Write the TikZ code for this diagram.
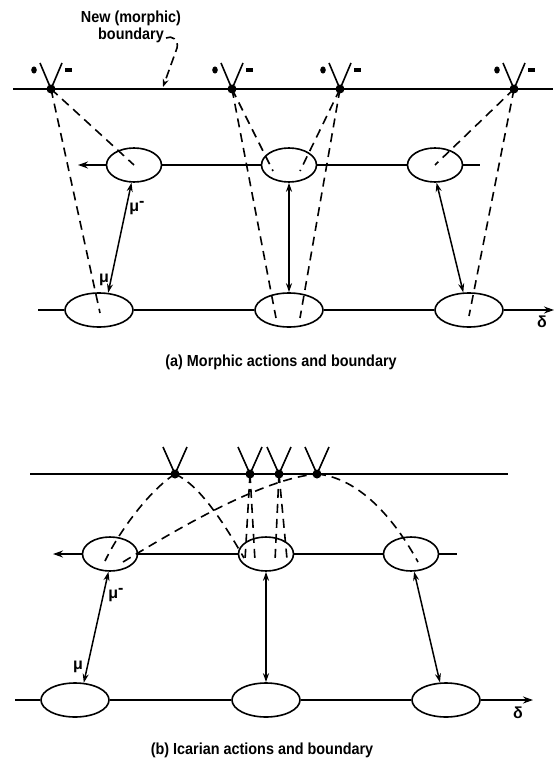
\documentclass[tikz,border=0pt]{standalone}
\usepackage{fontspec}
\setmainfont{Liberation Sans}
\usetikzlibrary{shapes.geometric,arrows.meta,calc}
\newcommand{\cond}[1]{\scalebox{0.9}[1]{\bfseries #1}}
\begin{document}
\begin{tikzpicture}[x=1pt,y=-1pt,
 ell/.style={draw,ellipse,line width=1.6pt,inner sep=0pt},
 mid/.style={ell,minimum width=55pt,minimum height=34pt},
 bot/.style={ell,minimum width=68pt,minimum height=34pt},
 vtx/.style={circle,fill,inner sep=0pt,minimum size=9pt},
 ln/.style={line width=1.6pt},
 tipr/.style={ln,-{Stealth[length=10pt,width=7pt]}},
 dsh/.style={line width=1.6pt,dash pattern=on 9pt off 6pt},
 dbl/.style={line width=1.5pt,{Stealth[length=9pt,width=6pt]}-{Stealth[length=9pt,width=6pt]}},
 arm/.style={line width=1.6pt},
 lab/.style={font=\fontsize{16}{17}\selectfont,inner sep=0pt},
 mu/.style={font=\fontsize{16}{17}\selectfont\bfseries,inner sep=0pt},
 ]
\useasboundingbox (0,0) rectangle (555,759);

% ================= panel (a) =================
\node[lab] (lbl1) at (131,18) {\cond{New (morphic)}};
\node[lab] (lbl2) at (131,35) {\cond{boundary}};
\coordinate (ahook) at (166,38);
\coordinate (ahit) at (163,87);
\draw[line width=1.6pt,dash pattern=on 9pt off 5pt,-{Stealth[length=8pt,width=6pt]}]
  (ahook) .. controls (172,35) and (179,40) .. (177,48) -- (ahit);

\coordinate (atl) at (13,89);
\coordinate (atr) at (553,89);
\draw[ln] (atl) -- (atr);

\node[mid] (am1) at (134,165) {};
\node[mid] (am2) at (289,165) {};
\node[mid] (am3) at (435,165) {};
\node[bot] (ab1) at (99,310) {};
\node[bot] (ab2) at (289,310) {};
\node[bot] (ab3) at (469,310) {};

\coordinate (aml) at (78,165);
\coordinate (amr) at (480,165);
\draw[tipr] (am1.west) -- (aml);
\draw[ln] (am1.east) -- (am2.west);
\draw[ln] (am2.east) -- (am3.west);
\draw[ln] (am3.east) -- (amr);

\coordinate (abl) at (38,310);
\coordinate (abr) at (554,310);
\draw[ln] (abl) -- (ab1.west);
\draw[ln] (ab1.east) -- (ab2.west);
\draw[ln] (ab2.east) -- (ab3.west);
\draw[tipr] (ab3.east) -- (abr);
\node[mu] (adelta) at (542,322) {δ};

\node[vtx] (av1) at (51,89) {};
\node[vtx] (av2) at (232,89) {};
\node[vtx] (av3) at (340,89) {};
\node[vtx] (av4) at (514,89) {};
\foreach \v in {av1,av2,av3,av4}{
  \draw[arm] (\v.center) -- ++(-11,-26);
  \draw[arm] (\v.center) -- ++(11,-26);
  \fill ($( \v.center)+(-17,-19)$) ellipse (2.8pt and 3.6pt);
  \draw[line width=3.5pt] ($( \v.center)+(14,-19)$) -- ++(7,0);
}

% dashed (a)
\coordinate (ab1i) at (100,313);
\coordinate (ab2i) at (276,318);
\coordinate (ab2j) at (300,318);
\coordinate (am2i) at (273,171);
\coordinate (am2j) at (300,171);
\coordinate (ab3i) at (469,316);
\draw[dsh] (av1.center) -- (ab1i);
\draw[dsh] (av1.center) -- (am1.center);
\draw[dsh] (av2.center) -- (ab2i);
\draw[dsh] (av2.center) -- (am2i);
\draw[dsh] (av3.center) -- (am2j);
\draw[dsh] (av3.center) -- (ab2j);
\draw[dsh] (av4.center) -- (am3.center);
\draw[dsh] (av4.center) -- (ab3i);

% solid double arrows (a)
\draw[dbl] (am1.-98) -- (ab1.62);
\draw[dbl] (am2.south) -- (ab2.north);
\draw[dbl] (am3.-85) -- (ab3.108);
\node[mu] (amu1) at (137,208) {μ\raisebox{0.55ex}{-}};
\node[mu] (amu2) at (104,280) {μ};

\node[lab] (capa) at (281,362) {\cond{(a) Morphic actions and boundary}};

% ================= panel (b) =================
\coordinate (btl) at (30,474);
\coordinate (btr) at (508,474);
\draw[ln] (btl) -- (btr);

\node[mid] (bm1) at (110,554) {};
\node[mid] (bm2) at (266,554) {};
\node[mid] (bm3) at (411,554) {};
\node[bot] (bb1) at (75,700) {};
\node[bot] (bb2) at (266,700) {};
\node[bot] (bb3) at (446,700) {};

\coordinate (bml) at (53,554);
\coordinate (bmr) at (457,554);
\draw[tipr] (bm1.west) -- (bml);
\draw[ln] (bm1.east) -- (bm2.west);
\draw[ln] (bm2.east) -- (bm3.west);
\draw[ln] (bm3.east) -- (bmr);

\coordinate (bbl) at (15,700);
\coordinate (bbr) at (533,700);
\draw[ln] (bbl) -- (bb1.west);
\draw[ln] (bb1.east) -- (bb2.west);
\draw[ln] (bb2.east) -- (bb3.west);
\draw[tipr] (bb3.east) -- (bbr);
\node[mu] (bdelta) at (518,713) {δ};

\node[vtx] (bv1) at (175,474) {};
\node[vtx] (bv2) at (250,474) {};
\node[vtx] (bv3) at (279,474) {};
\node[vtx] (bv4) at (317,474) {};
\foreach \v in {bv1,bv2,bv3,bv4}{
  \draw[arm] (\v.center) -- ++(-12,-27);
  \draw[arm] (\v.center) -- ++(12,-27);
}

% dashed (b)
\coordinate (bm1i) at (105,561);
\coordinate (bm1j) at (123,562);
\coordinate (bm2a) at (244,558);
\coordinate (bm2b) at (245,560);
\coordinate (bm2c) at (255,561);
\coordinate (bm2d) at (275,561);
\coordinate (bm2e) at (287,559);
\coordinate (bm3i) at (418,562);
\draw[dsh] (bv1.center) .. controls (150,490) and (120,530) .. (bm1i);
\draw[dsh] (bv1.center) .. controls (200,485) and (225,525) .. (bm2a);
\draw[dsh] (bv2.center) -- (bm2b);
\draw[dsh] (bv2.center) -- (bm2c);
\draw[dsh] (bv3.center) -- (bm2d);
\draw[dsh] (bv3.center) -- (bm2e);
\draw[dsh] (bm1j) .. controls (200,515) and (270,478) .. (bv4.center);
\draw[dsh] (bv4.center) .. controls (360,478) and (395,520) .. (bm3i);

% solid double arrows (b)
\draw[dbl] (bm1.-95) -- (bb1.63);
\draw[dbl] (bm2.south) -- (bb2.north);
\draw[dbl] (bm3.-80) -- (bb3.109);
\node[mu] (bmu1) at (116,595) {μ\raisebox{0.55ex}{-}};
\node[mu] (bmu2) at (78,667) {μ};

\node[lab] (capb) at (262,750) {\cond{(b) Icarian actions and boundary}};
\end{tikzpicture}
\end{document}
